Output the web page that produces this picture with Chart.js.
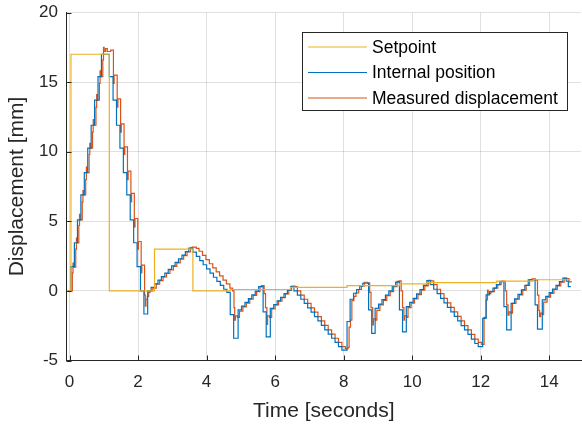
<!DOCTYPE html>
<html>
<head>
<meta charset="utf-8">
<script src="https://cdn.jsdelivr.net/npm/chart.js@4"></script>
<style>
  html, body { margin: 0; padding: 0; background: #fff; }
</style>
</head>
<body>
<canvas id="chart" width="582" height="429"></canvas>
<script>
// ===== data: [time (s), displacement (mm)] =====
const setpoint = [
  [-0.05, 0], [0.04, 17], [1.16, 0], [2.48, 3], [3.6, 0], [4.69, 0.1], [6.45, 0.25],
  [8.1, 0.38], [9.63, 0.5], [10.43, 0.6], [12.47, 0.7], [13.53, 0.8], [14.63, 0.8]
];

const internalPosition = [
  [-0.05, 0], [0.04, 1.75], [0.14, 3.46], [0.23, 5.1], [0.33, 6.9], [0.43, 8.5], [0.53, 10.25],
  [0.63, 11.9], [0.73, 13.7], [0.83, 15.4], [0.93, 17.0], [1.16, 15.4], [1.27, 13.7], [1.37, 11.9],
  [1.47, 10.25], [1.57, 8.5], [1.67, 6.9], [1.77, 5.1], [1.87, 3.46], [1.97, 1.75], [2.07, 0],
  [2.17, -1.66], [2.28, 0],
  [2.38, 0.26], [2.48, 0.51], [2.58, 0.77], [2.68, 1.03], [2.78, 1.28], [2.88, 1.54], [2.98, 1.8],
  [3.08, 2.05], [3.18, 2.31], [3.28, 2.57], [3.38, 2.82], [3.48, 3.08],
  [3.6, 2.78], [3.7, 2.48], [3.8, 2.18], [3.9, 1.88], [4.0, 1.58], [4.1, 1.28], [4.2, 0.98],
  [4.3, 0.68], [4.4, 0.4], [4.5, 0.12], [4.59, -0.1], [4.69, -1.7], [4.79, -3.4], [4.92, -1.37],
  [5.02, -1.1], [5.12, -0.83], [5.22, -0.56], [5.32, -0.29], [5.42, -0.02], [5.52, 0.3],
  [5.65, -1.5], [5.74, -3.3], [5.86, -1.25],
  [5.96, -0.98], [6.06, -0.72], [6.16, -0.46], [6.26, -0.2], [6.36, 0.06], [6.45, 0.31],
  [6.55, 0.0], [6.65, -0.3], [6.75, -0.6], [6.85, -0.9], [6.95, -1.22], [7.05, -1.53], [7.15, -1.85],
  [7.25, -2.16], [7.35, -2.48], [7.45, -2.8], [7.55, -3.1], [7.65, -3.4], [7.75, -3.7], [7.85, -4.0],
  [7.95, -4.26],
  [8.1, -2.2], [8.19, -0.6], [8.29, -0.17], [8.38, 0.1], [8.47, 0.35], [8.56, 0.55],
  [8.73, -1.37], [8.82, -3.05], [8.92, -1.25],
  [9.02, -0.95], [9.12, -0.63], [9.22, -0.3], [9.32, 0.0], [9.42, 0.32], [9.52, 0.63],
  [9.63, -1.37], [9.72, -2.94], [9.83, -1.13],
  [9.93, -0.83], [10.03, -0.53], [10.13, -0.22], [10.23, 0.1], [10.33, 0.4], [10.43, 0.74],
  [10.53, 0.45], [10.63, 0.12], [10.73, -0.2], [10.83, -0.53], [10.93, -0.86], [11.03, -1.18],
  [11.13, -1.5], [11.23, -1.83], [11.33, -2.16], [11.43, -2.5], [11.53, -2.8], [11.63, -3.13],
  [11.73, -3.46], [11.83, -3.78], [11.93, -4.0],
  [12.06, -1.97], [12.16, -0.29], [12.26, -0.05], [12.36, 0.2], [12.46, 0.45], [12.56, 0.67],
  [12.68, -1.13], [12.76, -2.8], [12.89, -0.89],
  [12.99, -0.57], [13.09, -0.25], [13.19, 0.07], [13.29, 0.4], [13.39, 0.79],
  [13.59, -1.0], [13.66, -2.74], [13.8, -0.65],
  [13.9, -0.4], [14.0, -0.13], [14.1, 0.13], [14.2, 0.4], [14.3, 0.66], [14.4, 0.92],
  [14.5, 0.7], [14.56, 0.31], [14.63, 0.31]
];

const measuredDisplacement = [
  [-0.05, 0], [0.08, 1.3], [0.1, 2.0], [0.12, 1.7], [0.18, 3.0], [0.2, 3.8], [0.22, 3.45],
  [0.27, 4.7], [0.29, 5.5], [0.31, 5.1], [0.37, 6.4], [0.39, 7.2], [0.41, 6.9],
  [0.47, 8.0], [0.49, 8.9], [0.51, 8.5], [0.57, 9.8], [0.59, 10.6], [0.61, 10.25],
  [0.67, 11.4], [0.69, 12.3], [0.71, 11.9], [0.77, 13.2], [0.79, 14.1], [0.81, 13.7],
  [0.87, 14.9], [0.89, 15.8], [0.91, 15.4], [0.97, 16.6], [0.99, 17.5], [1.01, 17.2],
  [1.05, 17.4], [1.1, 17.2], [1.2, 17.3],
  [1.28, 14.9], [1.3, 15.5], [1.39, 13.2], [1.41, 13.8], [1.49, 11.4], [1.51, 12.0],
  [1.59, 9.8], [1.61, 10.35], [1.69, 8.0], [1.71, 8.6], [1.79, 6.4], [1.81, 7.0],
  [1.89, 4.6], [1.91, 5.2], [1.99, 3.0], [2.01, 3.55], [2.09, 1.3], [2.11, 1.85],
  [2.19, -0.3], [2.21, -1.1], [2.23, -0.6], [2.27, -0.4], [2.31, -0.1], [2.35, 0.0],
  [2.43, 0.2], [2.53, 0.48], [2.63, 0.74], [2.73, 1.0], [2.83, 1.25], [2.93, 1.5], [3.03, 1.76],
  [3.13, 2.02], [3.23, 2.28], [3.33, 2.54], [3.43, 2.8], [3.53, 3.1], [3.58, 3.15],
  [3.7, 3.05], [3.78, 2.85], [3.88, 2.55], [3.98, 2.25], [4.08, 1.95], [4.18, 1.66], [4.28, 1.36],
  [4.38, 1.08], [4.48, 0.78], [4.58, 0.5], [4.68, 0.2], [4.76, 0.0],
  [4.8, -1.2], [4.82, -2.1], [4.84, -1.8], [4.9, -1.9], [4.96, -1.45],
  [5.06, -1.15], [5.16, -0.88], [5.26, -0.6], [5.36, -0.33], [5.46, -0.05], [5.56, 0.3], [5.6, 0.38],
  [5.68, -0.2], [5.72, -1.2], [5.76, -2.4], [5.78, -1.8], [5.84, -1.9], [5.9, -1.3],
  [6.0, -1.0], [6.1, -0.74], [6.2, -0.48], [6.3, -0.22], [6.4, 0.04], [6.48, 0.34], [6.58, 0.3],
  [6.65, 0.0], [6.75, -0.3], [6.85, -0.6], [6.95, -0.9], [7.05, -1.22], [7.15, -1.53], [7.25, -1.85],
  [7.35, -2.16], [7.45, -2.48], [7.55, -2.8], [7.65, -3.1], [7.75, -3.4], [7.85, -3.7], [7.95, -4.0],
  [8.05, -4.15], [8.13, -4.05], [8.16, -2.6], [8.2, -2.1], [8.24, -0.7], [8.3, -0.4], [8.36, -0.15],
  [8.44, 0.1], [8.52, 0.35], [8.6, 0.62], [8.7, 0.58],
  [8.76, -0.1], [8.8, -1.2], [8.85, -2.45], [8.87, -2.0], [8.93, -2.1], [8.97, -1.4],
  [9.06, -1.0], [9.16, -0.68], [9.26, -0.35], [9.36, -0.05], [9.46, 0.3], [9.56, 0.68], [9.62, 0.72],
  [9.68, 0.0], [9.72, -1.2], [9.76, -2.1], [9.78, -1.8], [9.84, -1.9], [9.88, -1.2],
  [9.97, -0.88], [10.07, -0.58], [10.17, -0.27], [10.27, 0.05], [10.37, 0.36], [10.47, 0.76], [10.55, 0.72],
  [10.63, 0.45], [10.73, 0.12], [10.83, -0.2], [10.93, -0.53], [11.03, -0.86], [11.13, -1.18],
  [11.23, -1.5], [11.33, -1.83], [11.43, -2.16], [11.53, -2.5], [11.63, -2.8], [11.73, -3.13],
  [11.83, -3.46], [11.93, -3.7], [12.03, -3.85],
  [12.1, -1.9], [12.16, -0.65], [12.2, 0.05], [12.22, -0.2], [12.3, -0.05], [12.4, 0.2], [12.5, 0.45],
  [12.6, 0.7], [12.68, 0.68],
  [12.72, 0.0], [12.76, -1.0], [12.8, -1.75], [12.83, -1.5], [12.88, -1.6], [12.93, -0.9],
  [13.03, -0.6], [13.13, -0.28], [13.23, 0.05], [13.33, 0.4], [13.43, 0.82], [13.5, 0.86], [13.6, 0.78],
  [13.66, -0.3], [13.7, -1.4], [13.72, -1.85], [13.75, -1.6], [13.8, -1.7], [13.84, -0.8],
  [13.94, -0.45], [14.04, -0.18], [14.14, 0.1], [14.24, 0.36], [14.34, 0.62], [14.44, 0.9],
  [14.52, 0.88], [14.58, 0.65], [14.65, 0.62]
];

const xTicks = [0, 2, 4, 6, 8, 10, 12, 14];
const yTicks = [-5, 0, 5, 10, 15, 20];

const seriesNames = ["Setpoint", "Internal position", "Measured displacement"];
const seriesColors = ["#EDB120", "#0072BD", "#D95319"];

/* ===== styling ===== */
const axisColor = "#262626";
const gridColor = "rgba(0,0,0,0.12)";
const fontFamily = "'Liberation Sans', Arial, Helvetica, sans-serif";

const toXY = pts => pts.map(p => ({ x: p[0], y: p[1] }));

/* inward tick marks like MATLAB */
const innerTicks = {
  id: "innerTicks",
  afterDatasetsDraw(chart) {
    const { ctx, chartArea: a, scales: { x, y } } = chart;
    ctx.save();
    ctx.strokeStyle = axisColor;
    ctx.lineWidth = 1;
    ctx.beginPath();
    xTicks.forEach(v => {
      const px = Math.round(x.getPixelForValue(v)) + 0.5;
      ctx.moveTo(px, a.bottom);
      ctx.lineTo(px, a.bottom - 5);
    });
    yTicks.forEach(v => {
      const py = Math.round(y.getPixelForValue(v)) + 0.5;
      ctx.moveTo(a.left, py);
      ctx.lineTo(a.left + 5, py);
    });
    ctx.stroke();
    ctx.restore();
  }
};

/* boxed legend in the upper right */
const boxLegend = {
  id: "boxLegend",
  afterDraw(chart) {
    const ctx = chart.ctx;
    const bx = 302.5, by = 32.5, bw = 265, bh = 78;
    ctx.save();
    ctx.fillStyle = "#fff";
    ctx.fillRect(bx, by, bw, bh);
    ctx.strokeStyle = axisColor;
    ctx.lineWidth = 1;
    ctx.strokeRect(bx, by, bw, bh);
    ctx.font = "17.5px " + fontFamily;
    ctx.textBaseline = "middle";
    ctx.fillStyle = "#000";
    seriesNames.forEach((name, i) => {
      const ry = 47 + i * 25.5;
      ctx.strokeStyle = seriesColors[i];
      ctx.lineWidth = 1.2;
      ctx.beginPath();
      ctx.moveTo(308, ry);
      ctx.lineTo(367, ry);
      ctx.stroke();
      ctx.fillText(name, 372, ry + 1);
    });
    ctx.restore();
  }
};

const series = [setpoint, internalPosition, measuredDisplacement];

new Chart(document.getElementById("chart").getContext("2d"), {
  type: "line",
  data: {
    datasets: series.map((pts, i) => ({
      label: seriesNames[i],
      data: toXY(pts),
      borderColor: seriesColors[i],
      borderWidth: 1.2,
      pointRadius: 0,
      stepped: true,
      fill: false
    }))
  },
  options: {
    responsive: false,
    animation: false,
    devicePixelRatio: 1,
    layout: { padding: { top: 12.5, right: 1, left: 0, bottom: 0 } },
    plugins: { legend: { display: false }, tooltip: { enabled: false } },
    scales: {
      x: {
        type: "linear",
        min: -0.09,
        max: 14.93,
        afterBuildTicks: s => { s.ticks = xTicks.map(v => ({ value: v })); },
        afterFit: s => { s.height = 68.5; s.paddingLeft = 0; s.paddingRight = 0; },
        grid: { color: gridColor, drawTicks: false },
        border: { color: axisColor, width: 1 },
        ticks: {
          autoSkip: false, maxRotation: 0, padding: 12, color: axisColor,
          font: { family: fontFamily, size: 17 },
          callback: v => String(v)
        },
        title: {
          display: true, text: "Time [seconds]", color: axisColor,
          font: { family: fontFamily, size: 21, lineHeight: 1.2 },
          padding: { top: 0, bottom: 5 }
        }
      },
      y: {
        type: "linear",
        min: -5,
        max: 20,
        afterBuildTicks: s => { s.ticks = yTicks.map(v => ({ value: v })); },
        afterFit: s => { s.width = 66.5; s.paddingTop = 0; s.paddingBottom = 0; },
        grid: { color: gridColor, drawTicks: false },
        border: { color: axisColor, width: 1 },
        ticks: {
          autoSkip: false, padding: 8.5, color: axisColor,
          font: { family: fontFamily, size: 17 },
          callback: v => String(v)
        },
        title: {
          display: true, text: "Displacement [mm]", color: axisColor,
          font: { family: fontFamily, size: 21, lineHeight: 1.2 },
          padding: { top: 5, bottom: 0 }
        }
      }
    }
  },
  plugins: [innerTicks, boxLegend]
});
</script>
</body>
</html>
